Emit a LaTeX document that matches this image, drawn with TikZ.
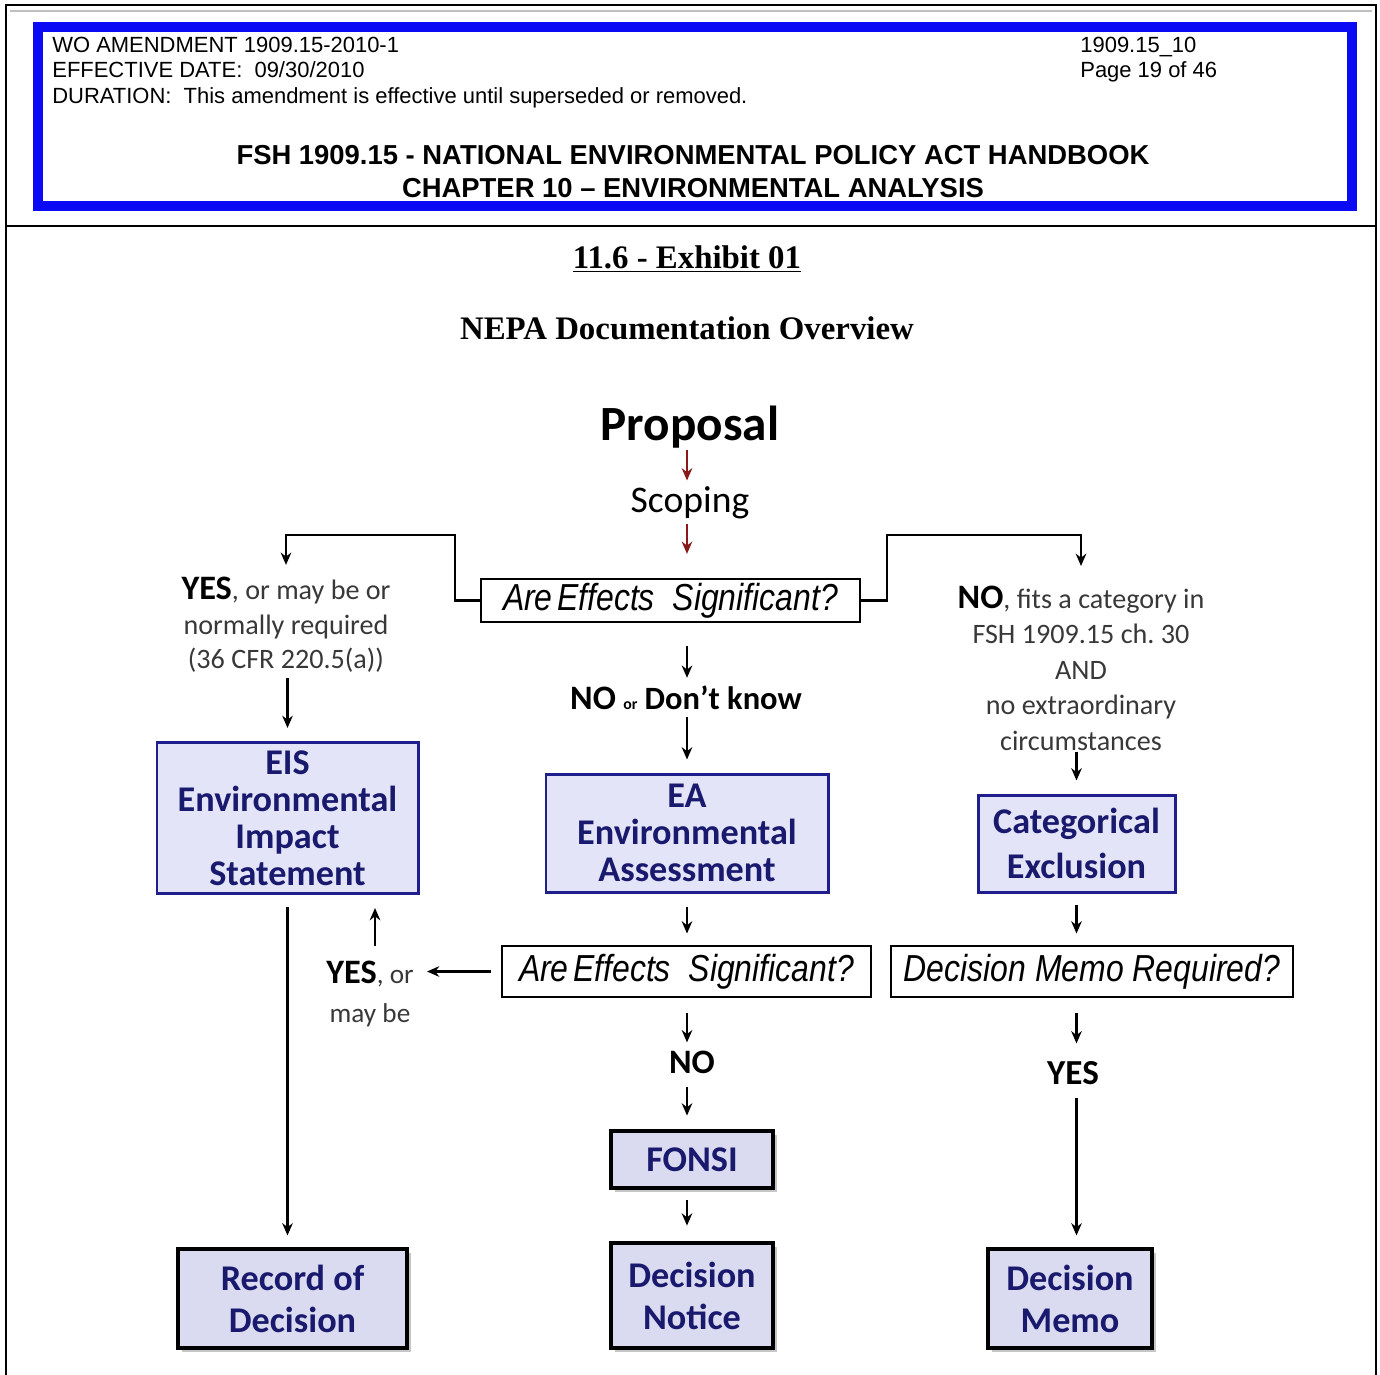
\documentclass[tikz,border=0pt]{standalone}
\usepackage{fontspec}
\setmainfont{Liberation Serif}
\newfontfamily\hdfont{Liberation Sans}
\newfontfamily\qfont{Liberation Sans}[FakeStretch=0.85]
\newfontfamily\cfont{Carlito}
\usetikzlibrary{arrows.meta,shadows}
\definecolor{boxfill}{RGB}{228,228,248}
\definecolor{boxline}{RGB}{30,30,140}
\definecolor{boxtext}{RGB}{25,25,110}
\definecolor{endfill}{RGB}{218,218,240}
\definecolor{hdblue}{RGB}{10,10,245}
\definecolor{scopered}{RGB}{140,25,25}
\tikzset{
  hdtext/.style={font=\hdfont\fontsize{12.5}{14}\selectfont, inner sep=0pt},
  hdtitle/.style={font=\hdfont\bfseries\fontsize{15.6}{17}\selectfont, inner sep=0pt},
  extitle/.style={font=\bfseries\fontsize{18.7}{20}\selectfont, inner sep=0pt},
  lbl/.style={font=\cfont\fontsize{16}{19.7}\selectfont, text=black!78, align=center, inner sep=0pt},
  flowbox/.style={draw=boxline, fill=boxfill, line width=1.7pt, text=boxtext,
    font=\cfont\bfseries\fontsize{20.6}{21}\selectfont, align=center, inner sep=0pt},
  endbox/.style={draw=black, fill=endfill, line width=2.8pt, text=boxtext,
    font=\cfont\bfseries\fontsize{20.6}{24}\selectfont, align=center, inner sep=0pt,
    drop shadow={shadow xshift=2.5pt, shadow yshift=-2.5pt, opacity=0.45}},
  qbox/.style={draw=black, fill=white, line width=1.6pt,
    font=\qfont\itshape\fontsize{21.4}{22}\selectfont, inner sep=0pt},
  arr/.style={-{Stealth[length=7pt,width=6pt]}, line width=1.6pt},
  redarr/.style={arr, draw=scopered},
}
\begin{document}
\frenchspacing
\begin{tikzpicture}[x=0.2mm,y=-0.2mm]
	\useasboundingbox (0,0) rectangle (1380,1374);
	% page frame
	\draw[line width=1.2pt] (6,1380) -- (6,5) -- (1376,5) -- (1376,1380);
	\draw[line width=1.2pt] (6,226) -- (1376,226);
	\draw[black!25, line width=0.6pt] (10,11) -- (1372,11);
	% the blue header box
	\draw[hdblue, line width=2mm] (37.5,26.5) rectangle (1351.5,205.5);
	\node[hdtext, anchor=base west] (amend) at (52,52) {WO AMENDMENT 1909.15-2010-1};
	\node[hdtext, anchor=base west] (effdate) at (52,77) {EFFECTIVE DATE:\ \ 09/30/2010};
	\node[hdtext, anchor=base west] (duration) at (52,103) {DURATION:\ \ This amendment is effective until superseded or removed.};
	\node[hdtext, anchor=base west] (fshno) at (1080,52) {1909.15\_10};
	\node[hdtext, anchor=base west] (pageno) at (1080,77) {Page 19 of 46};
	\node[hdtitle, anchor=base] (handbook) at (693,164) {FSH 1909.15 - NATIONAL ENVIRONMENTAL POLICY ACT HANDBOOK};
	\node[hdtitle, anchor=base] (chapter) at (693,197) {CHAPTER 10 – ENVIRONMENTAL ANALYSIS};
	% exhibit title
	\node[extitle, anchor=base] (exhibit) at (687,268) {\underline{11.6 - Exhibit 01}};
	\node[extitle, anchor=base] (overview) at (687,339) {NEPA Documentation Overview};
	% - proposal and scoping
	\node[font=\cfont\bfseries\fontsize{28}{30}\selectfont, inner sep=0pt, anchor=base] (prop) at (690,440) {Proposal};
	\node[font=\cfont\fontsize{21.4}{23}\selectfont, inner sep=0pt, anchor=base] (scop) at (690,512) {Scoping};
	\node[qbox, minimum width=75.8mm, minimum height=8.6mm] (q1) at (670.5,600.5) {Are\hspace{0.12em}Effects~ Significant?};
	\draw[redarr, shorten <=1pt, shorten >=3pt] (prop.south -| 687,0) -- (scop.north -| 687,0);
	\draw[redarr, shorten <=3pt, shorten >=13.5pt] (scop.south -| 687,0) -- (q1.north -| 687,0);
	% - left branch: EIS
	\node[lbl] (yes1) at (286,625) {{\bfseries\fontsize{19.5}{19.7}\selectfont\color{black}YES}, or may be or\\normally required\\(36 CFR 220.5(a))};
	\coordinate (lturn) at (455,535);
	\draw[arr, shorten >=6.8pt] (q1.west) -| (lturn) -| (yes1.north);
	\node[flowbox, minimum width=52.2mm, minimum height=30.2mm] (eis) at (287.5,818) {EIS\\Environmental\\Impact\\Statement};
	\draw[arr, shorten <=3pt, shorten >=7.4pt] (yes1.south -| eis.north) -- (eis.north);
	% - right branch: CE
	\node[lbl, font=\cfont\fontsize{16}{20.2}\selectfont] (no1) at (1081,668) {{\bfseries\fontsize{19.5}{20.2}\selectfont\color{black}NO}, fits a category in\\FSH 1909.15 ch. 30\\AND\\no extraordinary\\circumstances};
	\coordinate (rturn) at (887,535);
	\draw[arr, shorten >=11pt] (q1.east) -| (rturn) -| (no1.north);
	\node[flowbox, minimum width=39.4mm, minimum height=19.4mm, font=\cfont\bfseries\fontsize{20.6}{26}\selectfont] (ce) at (1076.5,843.5) {Categorical\\Exclusion};
	\draw[arr, shorten <=0.5pt, shorten >=7.4pt] (no1.south -| ce.north) -- (ce.north);
	% - middle branch: EA
	\node[inner sep=0pt, font=\cfont\bfseries\fontsize{18.5}{20}\selectfont] (nodk) at (686,698) {{\fontsize{19.5}{20}\selectfont NO} {\fontsize{9}{10}\selectfont or} Don’t know};
	\node[flowbox, minimum width=56.4mm, minimum height=23.6mm] (ea) at (687,833) {EA\\Environmental\\Assessment};
	\draw[arr, shorten <=13pt, shorten >=4.5pt] (q1.south -| ea.north) -- (nodk.north -| ea.north);
	\draw[arr, shorten <=4pt, shorten >=7.4pt] (nodk.south -| ea.north) -- (ea.north);
	\node[qbox, minimum width=73.8mm, minimum height=10.2mm] (q2) at (686.5,971.5) {Are\hspace{0.12em}Effects~ Significant?};
	\draw[arr, shorten <=7.4pt, shorten >=6.3pt] (ea.south) -- (ea.south |- q2.north);
	% - back to EIS
	\node[lbl, font=\cfont\fontsize{15.5}{22}\selectfont] (yes2) at (370,994) {{\bfseries\fontsize{19.5}{22}\selectfont\color{black}YES}, or\\may be};
	\draw[arr, shorten <=5.7pt, shorten >=7.4pt] (q2.west) -- (q2.west -| yes2.east);
	\draw[arr, shorten <=8.5pt, shorten >=7.4pt] (yes2.north -| 375,0) -- (eis.south -| 375,0);
	% - FONSI path
	\node[inner sep=0pt, font=\cfont\bfseries\fontsize{19.5}{20}\selectfont] (no2) at (692,1062) {NO};
	\node[endbox, minimum width=32.4mm, minimum height=11.4mm] (fonsi) at (692,1159.5) {FONSI};
	\node[endbox, minimum width=32.4mm, minimum height=21mm] (dn) at (692,1295.5) {Decision\\Notice};
	\draw[arr, shorten <=8.5pt, shorten >=4.5pt] (q2.south -| ea.south) -- (no2.north -| ea.south);
	\draw[arr, shorten <=7.4pt, shorten >=7.4pt] (no2.south -| ea.south) -- (fonsi.north -| ea.south);
	\draw[arr, shorten <=5.7pt, shorten >=8.5pt] (fonsi.south -| ea.south) -- (dn.north -| ea.south);
	% - record of decision
	\node[endbox, minimum width=45.8mm, minimum height=19.8mm] (rod) at (292.5,1298.5) {Record of\\Decision};
	\draw[arr, shorten <=6.8pt, shorten >=6.3pt] (eis.south) -- (eis.south |- rod.north);
	% - decision memo path
	\node[qbox, minimum width=80.4mm, minimum height=10.2mm] (q3) at (1092,971.5) {Decision Memo Required?};
	\draw[arr, shorten <=6.8pt, shorten >=6.3pt] (ce.south) -- (ce.south |- q3.north);
	\node[inner sep=0pt, font=\cfont\bfseries\fontsize{20}{21}\selectfont] (yes3) at (1073,1073) {YES};
	\node[endbox, minimum width=32.8mm, minimum height=19.8mm] (dm) at (1070,1298.5) {Decision\\Memo};
	\draw[arr, shorten <=8.5pt, shorten >=10pt] (q3.south -| ce.south) -- (yes3.north -| ce.south);
	\draw[arr, shorten <=7.4pt, shorten >=6.3pt] (yes3.south -| ce.south) -- (dm.north -| ce.south);
\end{tikzpicture}
\end{document}
